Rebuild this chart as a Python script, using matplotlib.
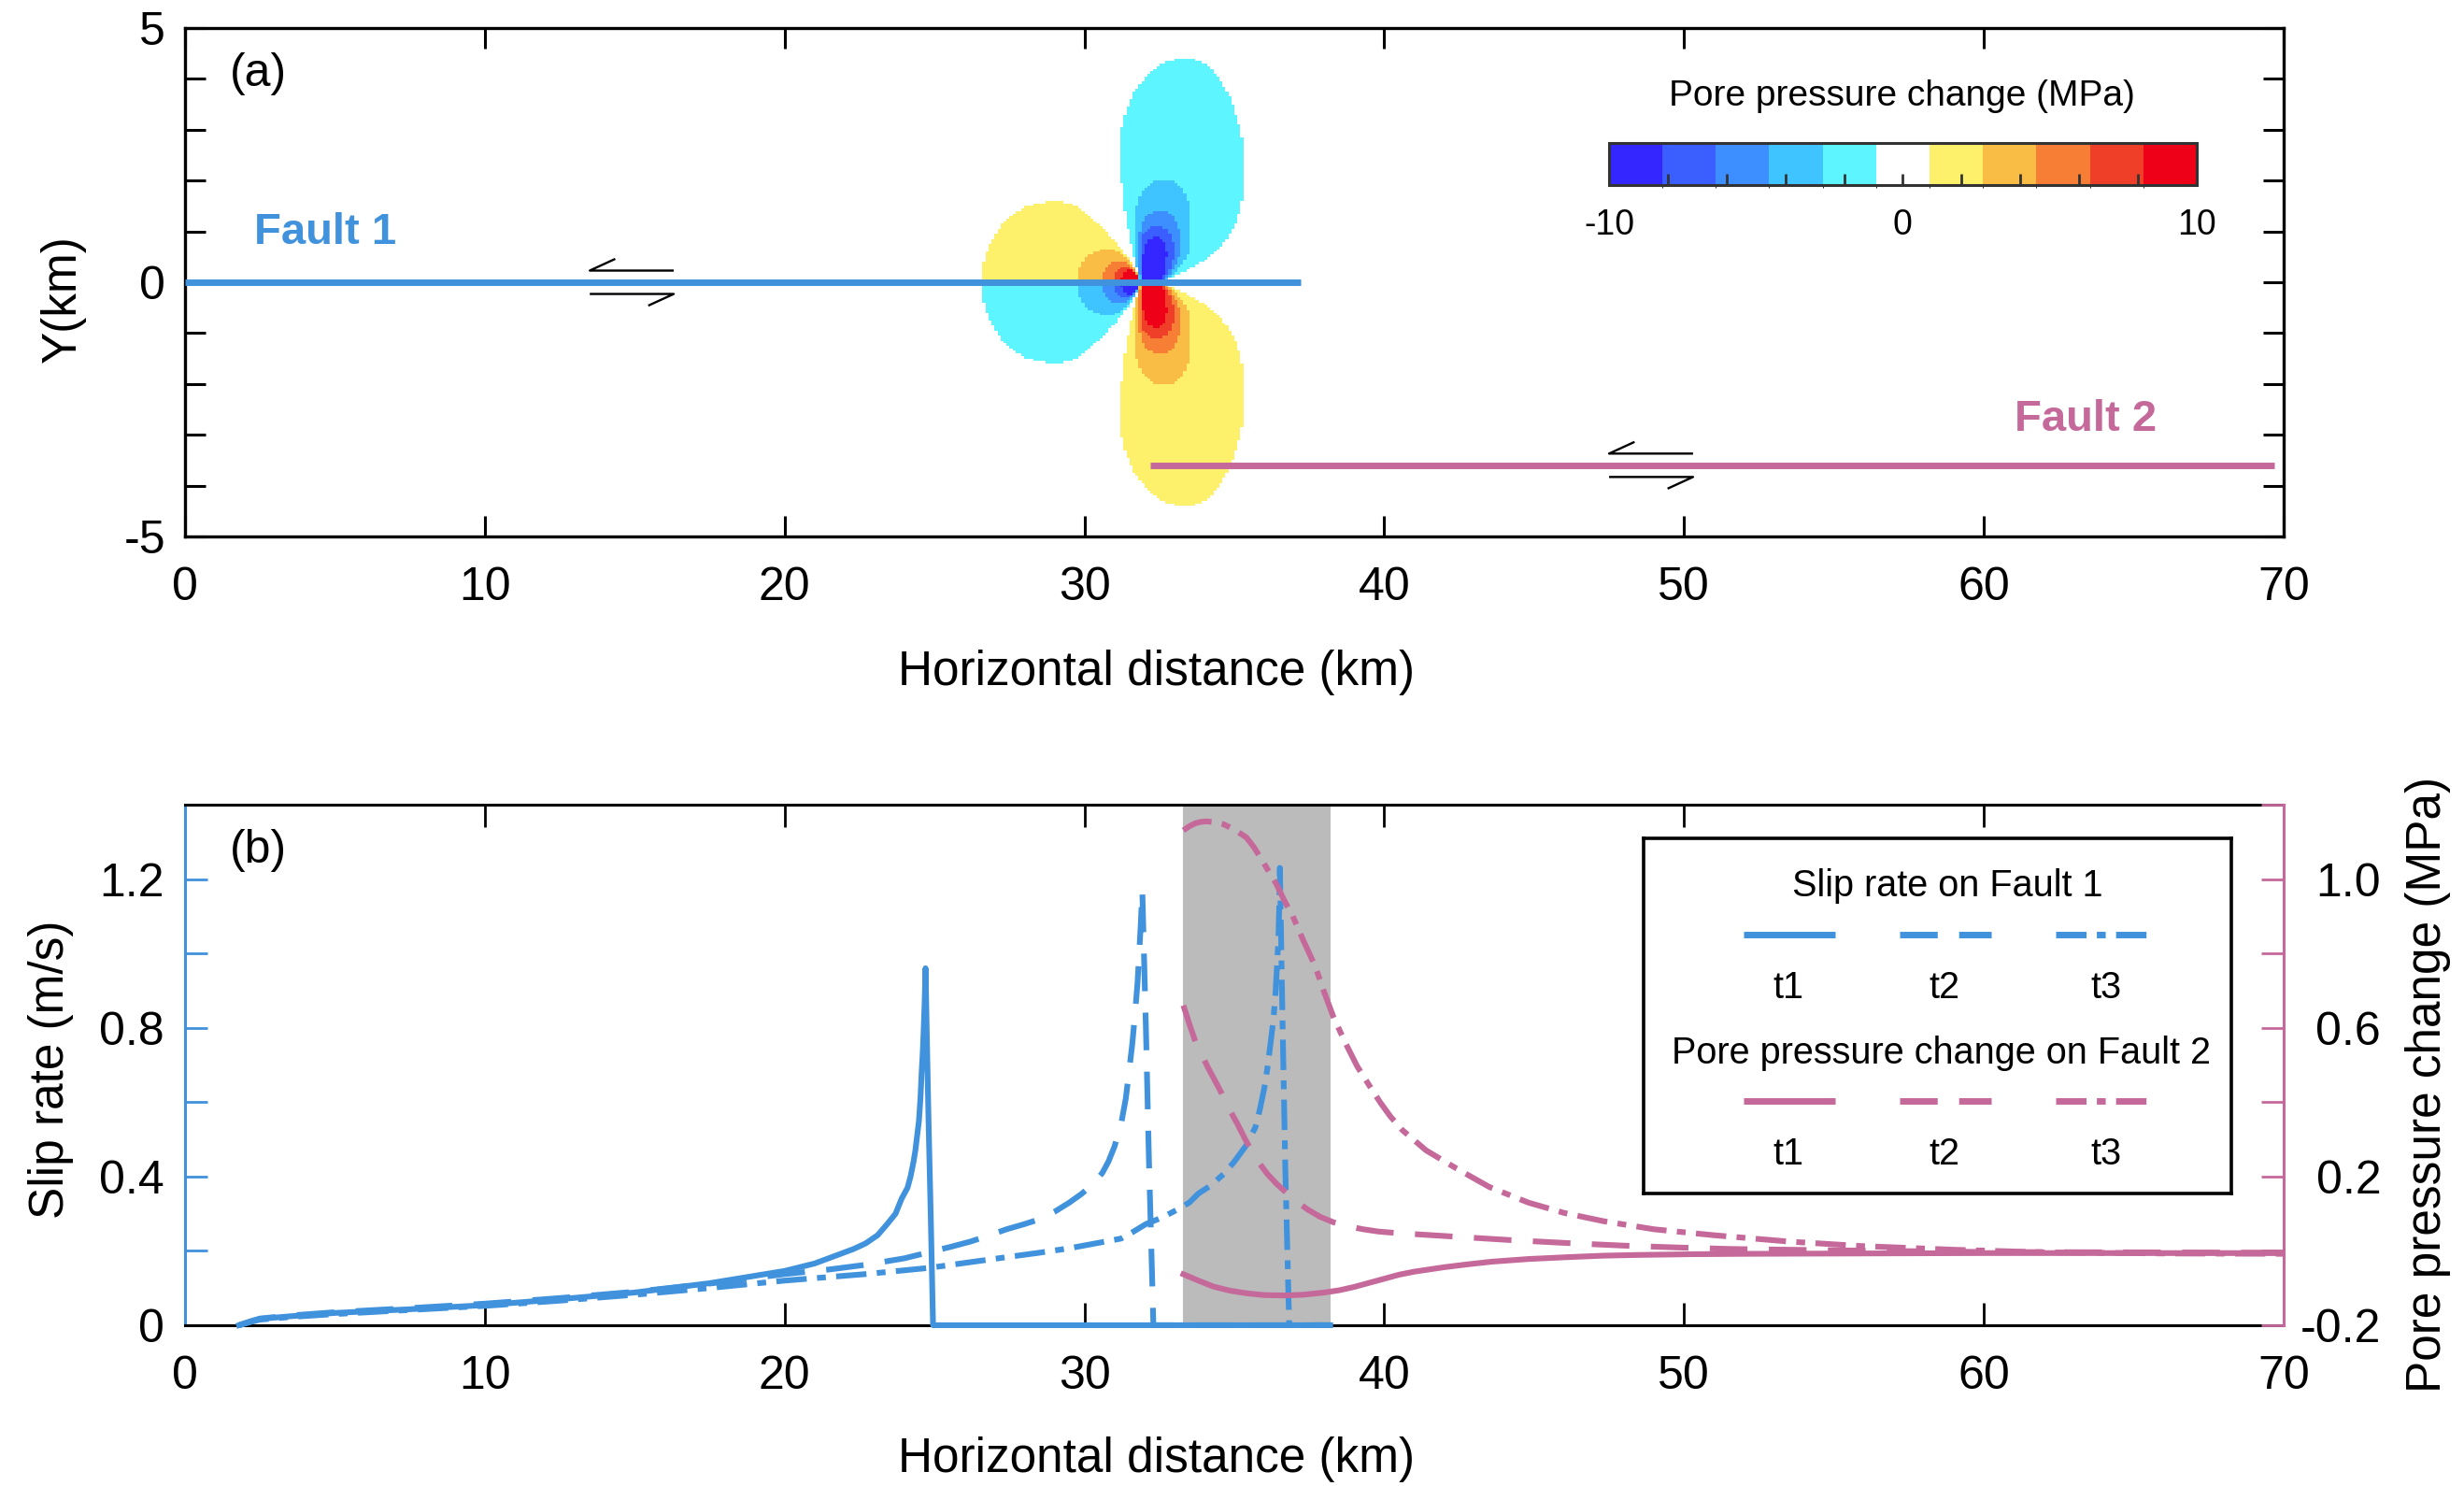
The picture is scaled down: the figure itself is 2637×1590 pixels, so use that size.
import numpy as np
import matplotlib
matplotlib.use("Agg")
import matplotlib.pyplot as plt
from matplotlib.colors import ListedColormap, BoundaryNorm
from matplotlib.path import Path
from matplotlib.ticker import MultipleLocator, FixedLocator, FixedFormatter

plt.rcParams["font.family"] = ["Liberation Sans", "DejaVu Sans"]
plt.rcParams["axes.unicode_minus"] = False
plt.rcParams["lines.scale_dashes"] = False

BLUE = "#4192DC"
PINK = "#C5699B"
BAND = "#BBBBBB"
NARROW_BOLD = ["Liberation Sans Narrow", "Liberation Sans", "DejaVu Sans"]

# ---------------- panel (a): pore pressure map ----------------
pp_colors = ["#3326FF", "#3A5EFF", "#3D8EFF", "#40C4FF", "#5DF5FF", "#FFFFFF",
             "#FDF06A", "#F9BC45", "#F77E35", "#F03F28", "#EE0019"]
pp_bounds = np.linspace(-10, 10, 12)
cbar_ticks = np.arange(-10, 11, 2)
cbar_labels = ["-10", "", "", "", "", "0", "", "", "", "", "10"]

# contour outlines (km) of the upper-right lobe, outermost class first (negative side)
lobe_right = [
    [(31.85, 0.08), (31.64, 0.52), (31.48, 0.96), (31.35, 1.34), (31.26, 1.85), (31.19, 2.36),
     (31.19, 2.74), (31.22, 2.99), (31.35, 3.31), (31.54, 3.62), (31.80, 3.88), (32.16, 4.10),
     (32.47, 4.26), (32.89, 4.37), (33.30, 4.42), (33.72, 4.37), (34.13, 4.26), (34.44, 4.07),
     (34.70, 3.81), (34.96, 3.50), (35.17, 3.05), (35.31, 2.67), (35.31, 1.79), (35.17, 1.34),
     (34.96, 1.03), (34.65, 0.77), (34.24, 0.52), (33.72, 0.33), (33.20, 0.17), (32.78, 0.08)],
    [(31.85, 0.04), (31.69, 0.46), (31.66, 0.96), (31.72, 1.47), (31.90, 1.79), (32.26, 1.98),
     (32.68, 2.04), (33.09, 1.96), (33.39, 1.76), (33.53, 1.34), (33.56, 0.84), (33.43, 0.49),
     (33.15, 0.27), (32.83, 0.11)],
    [(31.87, 0.04), (31.80, 0.46), (31.81, 0.96), (31.97, 1.25), (32.26, 1.38), (32.58, 1.42),
     (32.89, 1.34), (33.12, 1.15), (33.20, 0.84), (33.16, 0.46), (32.94, 0.20), (32.73, 0.08)],
    [(31.89, 0.04), (31.85, 0.46), (31.87, 0.84), (32.03, 1.03), (32.39, 1.11), (32.73, 1.06),
     (32.94, 0.90), (32.99, 0.58), (32.89, 0.27), (32.70, 0.08)],
    [(31.91, 0.04), (31.93, 0.52), (32.03, 0.79), (32.32, 0.90), (32.60, 0.87), (32.74, 0.71),
     (32.76, 0.46), (32.68, 0.20), (32.58, 0.04)],
]
# upper-left lobe (positive side); lower lobes mirror these with the opposite sign
lobe_left = [
    [(31.85, 0.04), (31.64, 0.33), (31.33, 0.58), (30.97, 0.84), (30.60, 1.09), (30.19, 1.31),
     (29.72, 1.50), (29.15, 1.60), (28.63, 1.58), (28.11, 1.50), (27.59, 1.34), (27.17, 1.09),
     (26.86, 0.77), (26.65, 0.46), (26.60, 0.04)],
    [(29.79, 0.04), (29.85, 0.33), (30.08, 0.52), (30.39, 0.61), (30.81, 0.66), (31.22, 0.58),
     (31.54, 0.39), (31.80, 0.14), (31.87, 0.04)],
    [(30.60, 0.04), (30.65, 0.23), (30.86, 0.38), (31.17, 0.42), (31.48, 0.36), (31.72, 0.20),
     (31.85, 0.04)],
    [(30.97, 0.04), (31.04, 0.20), (31.22, 0.32), (31.48, 0.32), (31.72, 0.17), (31.85, 0.04)],
    [(31.20, 0.04), (31.28, 0.17), (31.48, 0.25), (31.69, 0.20), (31.83, 0.11), (31.87, 0.04)],
]

fault1_x = [0.0, 37.2]
fault1_y = 0.0
fault2_x = [32.2, 69.7]
fault2_y = -3.6
shear1_x = (13.5, 16.3)
shear2_x = (47.5, 50.3)

# ---------------- panel (b): slip rate and pore pressure ----------------
slip_t1_x = [1.8, 2.2, 2.5, 3.5, 5, 7.5, 10, 12.5, 15, 17.5, 20, 21, 21.8, 22.3, 22.7, 23.1,
             23.4, 23.7, 23.9, 24.1, 24.2, 24.3, 24.36, 24.42, 24.48, 24.53, 24.57, 24.61,
             24.64, 24.67, 24.7, 24.75, 24.8, 24.88, 24.95, 38.2]
slip_t1_y = [0, 0.01, 0.017, 0.024, 0.033, 0.043, 0.054, 0.07, 0.088, 0.113, 0.146, 0.166, 0.19,
             0.205, 0.22, 0.242, 0.27, 0.30, 0.34, 0.37, 0.40, 0.44, 0.47, 0.51, 0.55, 0.61,
             0.68, 0.74, 0.80, 0.87, 0.96, 0.75, 0.55, 0.27, 0, 0]
slip_t2_x = [1.8, 2.2, 2.5, 3.5, 5, 7.5, 10, 12.5, 15, 17.5, 20, 21.5, 22.7, 24, 24.8, 25.5,
             26.2, 26.8, 27.4, 28, 28.5, 29, 29.5, 29.9, 30.3, 30.6, 30.8, 31.0, 31.22, 31.38,
             31.5, 31.6, 31.7, 31.77, 31.82, 31.88, 31.93, 32.05, 32.15, 32.3, 38.2]
slip_t2_y = [0, 0.011, 0.018, 0.026, 0.035, 0.046, 0.058, 0.073, 0.09, 0.112, 0.1375, 0.15,
             0.1625, 0.18, 0.196, 0.21, 0.225, 0.241, 0.258, 0.272, 0.285, 0.305, 0.33, 0.353,
             0.38, 0.41, 0.44, 0.48, 0.54, 0.61, 0.69, 0.76, 0.85, 0.92, 0.99, 1.08, 1.17, 0.8,
             0.45, 0, 0]
slip_t3_x = [1.8, 2.2, 2.5, 3.5, 5, 7.5, 10, 12.5, 15, 17.5, 20, 22.7, 24.8, 27.4, 28.5, 29.5,
             30.5, 31.22, 31.6, 32.05, 32.6, 33.1, 33.5, 33.8, 34.2, 34.65, 35.0, 35.4, 35.7,
             35.85, 36.0, 36.1, 36.2, 36.3, 36.37, 36.42, 36.47, 36.5, 36.52, 36.6, 36.7, 36.83,
             38.2]
slip_t3_y = [0, 0.009, 0.015, 0.022, 0.03, 0.041, 0.052, 0.066, 0.082, 0.1, 0.12, 0.1375, 0.154,
             0.183, 0.195, 0.207, 0.222, 0.233, 0.25, 0.272, 0.29, 0.311, 0.33, 0.354, 0.375,
             0.407, 0.44, 0.484, 0.532, 0.58, 0.638, 0.69, 0.753, 0.82, 0.888, 0.96, 1.042, 1.13,
             1.23, 0.85, 0.42, 0, 0]

pp_t1_x = [33.3, 33.8, 34.3, 34.85, 35.4, 36.0, 36.7, 37.3, 38.0, 38.5, 39.0, 39.5, 40.0, 40.5,
           41.0, 41.5, 42.0, 42.7, 43.6, 44.8, 46.1, 47.3, 48.5, 50.3, 52.2, 56, 60, 70]
pp_t1_y = [-0.063, -0.08, -0.096, -0.107, -0.114, -0.119, -0.12, -0.118, -0.112, -0.106, -0.097,
           -0.086, -0.075, -0.064, -0.056, -0.05, -0.044, -0.037, -0.029, -0.022, -0.017,
           -0.013, -0.011, -0.009, -0.008, -0.007, -0.006, -0.006]
pp_t2_x = [33.3, 33.5, 33.7, 33.9, 34.1, 34.3, 34.55, 34.8, 35.1, 35.35, 35.6, 35.85, 36.1, 36.4,
           36.7, 37.05, 37.45, 37.85, 38.3, 38.8, 39.3, 39.8, 40.4, 41.4, 42.4, 44.2, 46.1, 48,
           49.8, 51.6, 53.5, 56.5, 60, 70]
pp_t2_y = [0.66, 0.61, 0.563, 0.53, 0.496, 0.466, 0.428, 0.385, 0.342, 0.302, 0.265, 0.234,
           0.207, 0.181, 0.159, 0.134, 0.111, 0.092, 0.077, 0.066, 0.058, 0.052, 0.048, 0.043,
           0.038, 0.029, 0.021, 0.014, 0.009, 0.005, 0.003, 0.0, -0.003, -0.005]
pp_t3_x = [33.3, 33.5, 33.7, 33.9, 34.1, 34.4, 34.65, 35.0, 35.4, 35.65, 35.9, 36.15, 36.4,
           36.65, 36.95, 37.3, 37.7, 38.0, 38.3, 38.7, 39.1, 39.5, 39.86, 40.2, 40.6, 41.4,
           42.4, 43.5, 44.8, 46, 47.3, 49, 51.0, 53.5, 55.9, 59, 62, 66, 70]
pp_t3_y = [1.131, 1.142, 1.15, 1.154, 1.155, 1.152, 1.147, 1.133, 1.112, 1.086, 1.054, 1.02,
           0.987, 0.945, 0.90, 0.835, 0.765, 0.695, 0.63, 0.56, 0.496, 0.445, 0.40, 0.362, 0.325,
           0.27, 0.222, 0.172, 0.13, 0.102, 0.08, 0.058, 0.042, 0.025, 0.013, 0.003, -0.004,
           -0.007, -0.008]

band_x = (33.3, 38.2)
time_labels = ["t1", "t2", "t3"]

SOLID = "-"
DASHED = (0, (29, 16.5))
DASHDOT = (0, (23.4, 8, 6.8, 8))
styles = [SOLID, DASHED, DASHDOT]


def chaikin(pts, n_iter=2):
    p = np.asarray(pts, float)
    for _ in range(n_iter):
        nxt = np.roll(p, -1, axis=0)
        q = 0.75 * p + 0.25 * nxt
        r = 0.25 * p + 0.75 * nxt
        p = np.empty((2 * len(p), 2))
        p[0::2] = q
        p[1::2] = r
    return p


def lobe_paths(outlines):
    paths = []
    for ol in outlines:
        p = np.asarray(ol, float)
        p = np.vstack([[p[0, 0], -0.02], p, [p[-1, 0], -0.02]])
        paths.append(Path(chaikin(p)))
    return paths


# gridded pore pressure classes
gx = np.arange(26.0, 36.0 + 1e-9, 0.1)
gy = np.arange(-4.6, 4.6 + 1e-9, 0.05)
XC, YC = np.meshgrid(0.5 * (gx[1:] + gx[:-1]), 0.5 * (gy[1:] + gy[:-1]))
pts = np.column_stack([XC.ravel(), YC.ravel()])
pts_m = pts * np.array([1.0, -1.0])
step = 20.0 / 11.0
field = np.zeros(XC.shape)
for k, (pr, pl) in enumerate(zip(lobe_paths(lobe_right), lobe_paths(lobe_left)), start=1):
    field[pr.contains_points(pts).reshape(XC.shape)] = -k * step
    field[pr.contains_points(pts_m).reshape(XC.shape)] = k * step
    field[pl.contains_points(pts).reshape(XC.shape)] = k * step
    field[pl.contains_points(pts_m).reshape(XC.shape)] = -k * step
field = np.ma.masked_equal(field, 0)

cmap = ListedColormap(pp_colors)
norm = BoundaryNorm(pp_bounds, cmap.N)

fig = plt.figure(figsize=(26.37, 15.90), dpi=100)

axa = fig.add_axes([0.0751, 0.6390, 0.8517, 0.3421])
mesh = axa.pcolormesh(gx, gy, field, cmap=cmap, norm=norm, shading="flat",
                      antialiased=False, zorder=1)
axa.plot(fault1_x, [fault1_y] * 2, color=BLUE, lw=5, solid_capstyle="butt", zorder=3)
axa.plot(fault2_x, [fault2_y] * 2, color=PINK, lw=5, solid_capstyle="butt", zorder=3)


def half_arrows(ax, xs, y0, off=0.23, barb=(0.85, 0.23)):
    x0, x1 = xs
    kw = dict(color="black", lw=1.7, solid_capstyle="butt", zorder=3)
    ax.plot([x0 + barb[0], x0, x1], [y0 + off + barb[1], y0 + off, y0 + off], **kw)
    ax.plot([x0, x1, x1 - barb[0]], [y0 - off, y0 - off, y0 - off - barb[1]], **kw)


half_arrows(axa, shear1_x, fault1_y)
half_arrows(axa, shear2_x, fault2_y)

axa.text(4.67, 0.97, "Fault 1", color=BLUE, fontsize=34, fontweight="bold",
         family=NARROW_BOLD, ha="center", va="center")
axa.text(63.4, -2.7, "Fault 2", color=PINK, fontsize=34, fontweight="bold",
         family=NARROW_BOLD, ha="center", va="center")
axa.text(1.5, 4.1, "(a)", fontsize=36, ha="left", va="center")

axa.set_xlim(0, 70)
axa.set_ylim(-5, 5)
axa.xaxis.set_major_locator(MultipleLocator(10))
axa.yaxis.set_major_locator(MultipleLocator(5))
axa.yaxis.set_minor_locator(MultipleLocator(1))
axa.tick_params(which="both", direction="in", top=True, right=True, length=16, width=2.2,
                labelsize=36)
axa.tick_params(axis="x", pad=23)
axa.tick_params(axis="y", pad=15)
for s in axa.spines.values():
    s.set_linewidth(2.4)
axa.set_xlabel("Horizontal distance (km)", fontsize=37, va="center")
axa.xaxis.set_label_coords(0.463, -0.268)
axa.set_ylabel("Y(km)", fontsize=37, va="center")
axa.yaxis.set_label_coords(-0.058, 0.468)

# colour bar
cax = fig.add_axes([0.6530, 0.8753, 0.2385, 0.0287])
cb = fig.colorbar(mesh, cax=cax, orientation="horizontal", ticks=cbar_ticks)
cb.ax.set_xticklabels(cbar_labels)
cb.ax.tick_params(direction="in", length=9, width=2, color="#333333", labelsize=27, pad=18)
cb.outline.set_linewidth(2.2)
cb.outline.set_edgecolor("#333333")
fig.text(2035 / 2637, 1 - 103 / 1590, "Pore pressure change (MPa)", fontsize=28,
         ha="center", va="center")

# ---------------- panel (b) ----------------
axb = fig.add_axes([0.0751, 0.1082, 0.8517, 0.3503])
axr = axb.twinx()

axb.axvspan(*band_x, color=BAND, lw=0, zorder=0)
for xs, ys, ls in zip([slip_t1_x, slip_t2_x, slip_t3_x], [slip_t1_y, slip_t2_y, slip_t3_y], styles):
    axb.plot(xs, ys, color=BLUE, lw=4.4, ls=ls, clip_on=False, zorder=3)
for xs, ys, ls in zip([pp_t1_x, pp_t2_x, pp_t3_x], [pp_t1_y, pp_t2_y, pp_t3_y], styles):
    axr.plot(xs, ys, color=PINK, lw=4.4, ls=ls, zorder=3)

axb.set_xlim(0, 70)
axb.set_ylim(0, 1.4)
axr.set_ylim(-0.2, 1.2)
axb.xaxis.set_major_locator(MultipleLocator(10))
axb.yaxis.set_major_locator(FixedLocator([0, 0.4, 0.8, 1.2]))
axb.yaxis.set_major_formatter(FixedFormatter(["0", "0.4", "0.8", "1.2"]))
axb.yaxis.set_minor_locator(FixedLocator([0.2, 0.6, 1.0, 1.4]))
axr.yaxis.set_major_locator(FixedLocator([-0.2, 0.2, 0.6, 1.0]))
axr.yaxis.set_major_formatter(FixedFormatter(["-0.2", "0.2", "0.6", "1.0"]))
axr.yaxis.set_minor_locator(FixedLocator([0.0, 0.4, 0.8, 1.2]))

axb.tick_params(axis="x", which="both", direction="in", top=True, length=17, width=2,
                labelsize=36, pad=23)
axb.tick_params(axis="y", which="both", direction="in", length=17, width=2, color=BLUE,
                labelsize=36, pad=16)
axr.tick_params(axis="y", which="both", direction="in", length=17, width=2, color=PINK,
                labelsize=36, pad=75)
plt.setp(axr.get_yticklabels(), ha="right")

axb.spines["right"].set_visible(False)
axb.spines["left"].set_color(BLUE)
for side in ("left", "top", "bottom"):
    axr.spines[side].set_visible(False)
axr.spines["right"].set_color(PINK)
for s in list(axb.spines.values()) + list(axr.spines.values()):
    s.set_linewidth(2.2)

axb.text(1.5, 1.277, "(b)", fontsize=36, ha="left", va="center")
axb.set_xlabel("Horizontal distance (km)", fontsize=37, va="center")
axb.xaxis.set_label_coords(0.463, -0.257)
axb.set_ylabel("Slip rate (m/s)", fontsize=37, va="center")
axb.yaxis.set_label_coords(-0.064, 0.492)
axr.set_ylabel("Pore pressure change (MPa)", fontsize=37, va="center")
axr.yaxis.set_label_coords(1.069, 0.462)

# legend box
lax = axr.inset_axes([0.6952, 0.2537, 0.2799, 0.6822])
lax.set_xlim(0, 1)
lax.set_ylim(0, 1)
lax.set_xticks([])
lax.set_yticks([])
for s in lax.spines.values():
    s.set_linewidth(2.6)
leg_spans = [(0.169, 0.326), (0.436, 0.591), (0.701, 0.855)]
leg_centres = [0.245, 0.512, 0.787]
lax.text(0.516, 0.864, "Slip rate on Fault 1", fontsize=28.5, ha="center", va="center")
lax.text(0.506, 0.395, "Pore pressure change on Fault 2", fontsize=28.5, ha="center",
         va="center")
for (x0, x1), xc, ls, lab in zip(leg_spans, leg_centres, styles, time_labels):
    lax.plot([x0, x1], [0.728, 0.728], color=BLUE, lw=5, ls=ls, solid_capstyle="butt")
    lax.plot([x0, x1], [0.259, 0.259], color=PINK, lw=5, ls=ls, solid_capstyle="butt")
    lax.text(xc, 0.579, lab, fontsize=28.5, ha="center", va="center")
    lax.text(xc, 0.110, lab, fontsize=28.5, ha="center", va="center")

fig.savefig("out.png", dpi=100)
